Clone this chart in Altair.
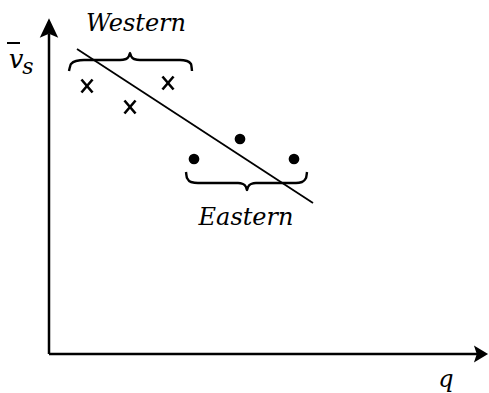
import altair as alt
import pandas as pd

# Schematic: mean speed (v̄_s) against quantity (q), two regional groups
western_q = [38, 81, 119]
western_v = [268, 247, 271]

eastern_q = [145, 191, 245]
eastern_v = [195, 215, 195]

fit_q = [28, 264]
fit_v = [305, 151]

# curly braces grouping each region's observations
brace_w_q = [20, 22, 27, 35, 71, 77, 80, 81, 82, 85, 91, 131, 138, 142, 143]
brace_w_v = [283, 290, 293, 294, 294, 295, 298, 301, 298, 295, 294, 294, 293, 290, 283]
brace_e_q = [137, 138, 142, 149, 189, 194, 197, 198, 199, 202, 207, 247, 253, 257, 258]
brace_e_v = [182, 176, 172, 171, 171, 170, 167, 164, 167, 170, 171, 171, 172, 176, 182]

X = alt.X("q:Q", scale=alt.Scale(domain=[0, 440], nice=False, zero=False), axis=None)
Y = alt.Y("v:Q", scale=alt.Scale(domain=[0, 334], nice=False, zero=False), axis=None)

SERIF = "'DejaVu Serif', 'Liberation Serif', serif"


def frame(qs, vs):
    return pd.DataFrame({"q": qs, "v": vs, "i": range(len(qs))})


# axes drawn as lines with arrowheads
x_axis = alt.Chart(frame([0, 430], [0, 0])).mark_line(
    color="black", strokeWidth=2.5).encode(x=X, y=Y, order="i:O")
y_axis = alt.Chart(frame([0, 0], [0, 320])).mark_line(
    color="black", strokeWidth=2.5).encode(x=X, y=Y, order="i:O")
arrow_y = alt.Chart(frame([0], [326])).mark_point(
    shape="M0,-1L0.95,1L0,0.6L-0.95,1Z", filled=True, color="black",
    opacity=1, size=380).encode(x=X, y=Y)
arrow_x = alt.Chart(frame([432], [0])).mark_point(
    shape="M1,0L-1,1.2L-0.6,0L-1,-1.2Z", filled=True, color="black",
    opacity=1, size=200).encode(x=X, y=Y)

fit = alt.Chart(frame(fit_q, fit_v)).mark_line(
    color="black", strokeWidth=1.8).encode(x=X, y=Y, order="i:O")

west = alt.Chart(frame(western_q, western_v)).mark_point(
    shape="M-0.85,-1L0.85,1M0.85,-1L-0.85,1", color="black", strokeWidth=2.6,
    opacity=1, size=170).encode(x=X, y=Y)
east = alt.Chart(frame(eastern_q, eastern_v)).mark_point(
    shape="circle", filled=True, color="black", opacity=1, size=115).encode(x=X, y=Y)

brace_w = alt.Chart(frame(brace_w_q, brace_w_v)).mark_line(
    color="black", strokeWidth=2.4, interpolate="monotone").encode(x=X, y=Y, order="i:O")
brace_e = alt.Chart(frame(brace_e_q, brace_e_v)).mark_line(
    color="black", strokeWidth=2.4, interpolate="monotone").encode(x=X, y=Y, order="i:O")

labels = pd.DataFrame({
    "q": [87, 197, 397],
    "v": [323, 129, -33],
    "t": ["Western", "Eastern", "q"],
})
region_text = alt.Chart(labels).mark_text(
    font=SERIF, fontStyle="italic", fontSize=24, baseline="alphabetic",
    align="center", color="black").encode(x=X, y=Y, text="t:N")

v_label = alt.Chart(pd.DataFrame({"q": [-33], "v": [286], "t": ["v"]})).mark_text(
    font=SERIF, fontStyle="italic", fontSize=26, baseline="alphabetic",
    align="center", color="black").encode(x=X, y=Y, text="t:N")
s_label = alt.Chart(pd.DataFrame({"q": [-21], "v": [280], "t": ["s"]})).mark_text(
    font=SERIF, fontStyle="italic", fontSize=22, baseline="alphabetic",
    align="center", color="black").encode(x=X, y=Y, text="t:N")
v_bar = alt.Chart(frame([-42, -29], [311, 311])).mark_line(
    color="black", strokeWidth=2).encode(x=X, y=Y, order="i:O")

chart = alt.layer(
    x_axis, y_axis, arrow_y, arrow_x, fit, brace_w, brace_e, west, east,
    region_text, v_label, s_label, v_bar,
).properties(
    width=440, height=334,
    background="white",
    padding={"left": 49, "top": 20, "right": 0, "bottom": 39},
    autosize=alt.AutoSizeParams(type="none"),
).configure_view(stroke="transparent", strokeWidth=0)

chart.save("out.html", embed_options={"renderer": "svg", "actions": False})
